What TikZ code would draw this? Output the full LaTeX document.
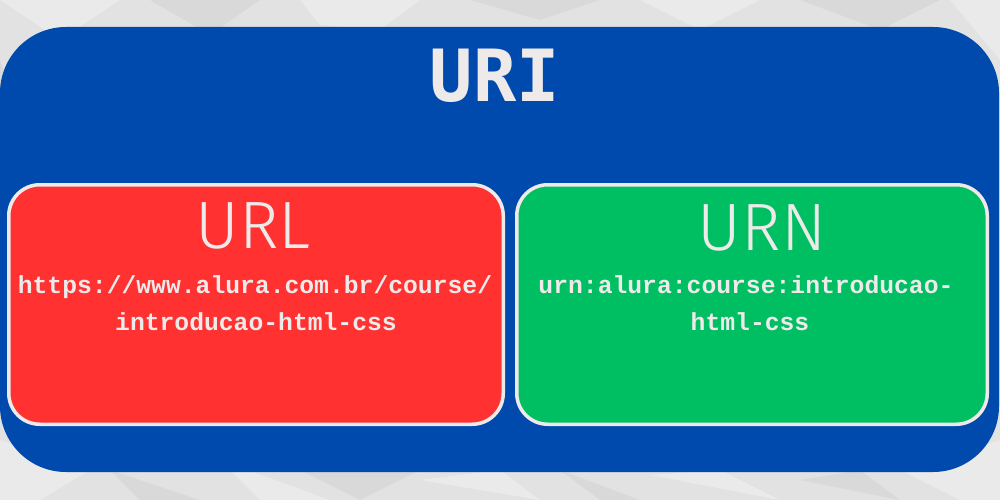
\documentclass[tikz,border=0pt]{standalone}
\usepackage{fontspec}
\newfontfamily\titlefont{DejaVu Sans Mono}[BoldFont={* Bold}]
\newfontfamily\thinfont{Fira Sans Light}
\newfontfamily\codefont{Liberation Mono}
\definecolor{paper}{HTML}{E2E2E2}
\definecolor{paperlight}{HTML}{ECECEC}
\definecolor{paperdark}{HTML}{D4D4D4}
\definecolor{uriblue}{HTML}{004AAD}
\definecolor{urlred}{HTML}{FF3131}
\definecolor{urngreen}{HTML}{00BF63}
\definecolor{offwhite}{HTML}{EEEAEA}
\begin{document}
\begin{tikzpicture}[x=1pt,y=-1pt,
  txt/.style={inner sep=0pt,anchor=base,text=offwhite},
  innerbox/.style={draw=offwhite,line width=3.5pt,rounded corners=31pt},
  title/.style={txt,font=\titlefont\bfseries\fontsize{72}{72}\selectfont},
  head/.style={txt,font=\thinfont\fontsize{67}{67}\selectfont},
  code/.style={txt,font=\codefont\bfseries\fontsize{24.7}{24.7}\selectfont},
  facetl/.style={fill=paperlight,opacity=0.8},
  facetd/.style={fill=paperdark,opacity=0.6}]
\useasboundingbox (0,0) rectangle (1000,500);
% crumpled paper background
\fill[paper] (0,0) rectangle (1000,500);
\fill[facetl] (0,0) -- (120,0) -- (60,40) -- cycle;
\fill[facetd] (150,0) -- (260,0) -- (210,35) -- cycle;
\fill[facetl] (300,0) -- (420,0) -- (380,30) -- (320,25) -- cycle;
\fill[facetd] (470,0) -- (540,20) -- (600,0) -- cycle;
\fill[facetl] (640,0) -- (760,0) -- (700,30) -- cycle;
\fill[facetd] (800,0) -- (880,30) -- (940,0) -- cycle;
\fill[facetl] (950,0) -- (1000,0) -- (1000,60) -- cycle;
\fill[facetd] (0,60) -- (20,120) -- (0,180) -- cycle;
\fill[facetl] (0,440) -- (90,470) -- (40,500) -- (0,500) -- cycle;
\fill[facetd] (110,470) -- (200,500) -- (140,500) -- cycle;
\fill[facetl] (220,460) -- (330,500) -- (260,500) -- cycle;
\fill[facetd] (300,470) -- (360,500) -- (420,470) -- cycle;
\fill[facetl] (420,480) -- (540,500) -- (500,470) -- cycle;
\fill[facetd] (560,470) -- (640,500) -- (600,500) -- cycle;
\fill[facetl] (650,475) -- (780,500) -- (720,470) -- cycle;
\fill[facetd] (800,480) -- (900,500) -- (860,470) -- cycle;
\fill[facetl] (900,470) -- (1000,440) -- (1000,500) -- (960,500) -- cycle;
% URI container
\fill[uriblue,rounded corners=66pt] (0,27) rectangle (999,472);
\filldraw[innerbox,fill=urlred] (8.75,184.75) rectangle (503.25,424.25);
\filldraw[innerbox,fill=urngreen] (516.75,184.75) rectangle (987.25,424.25);
\node[title] (uri) at (495,102) {URI};
\node[head] (url) at (253,248) {URL};
\node[head] (urn) at (762,250) {URN};
\node[code] (urla) at (255,293) {https://www.alura.com.br/course/};
\node[code] (urlb) at (256,330) {introducao-html-css};
\node[code] (urna) at (746,293) {urn:alura:course:introducao-};
\node[code] (urnb) at (750,330) {html-css};
\end{tikzpicture}
\end{document}
